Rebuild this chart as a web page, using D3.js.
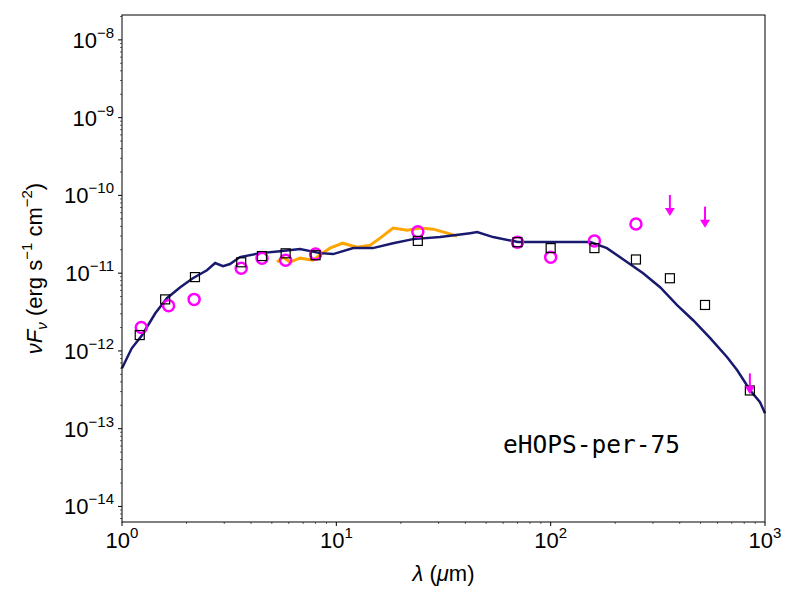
<!DOCTYPE html>
<html><head><meta charset="utf-8">
<script src="https://cdn.jsdelivr.net/npm/d3@7"></script>
<style>body{margin:0;background:#fff;font-family:"Liberation Sans",Arial,sans-serif}</style>
</head><body><svg id="c" width="800" height="600"></svg>
<script>
// model SED
var modelWave = [1.00,1.11,1.24,1.43,1.62,1.87,2.14,2.49,2.72,2.96,3.19,3.55,4.41,5.46,6.77,8.39,9.66,12.0,14.8,18.4,22.8,30.5,42.1,45.4,53.9,70.4,86.4,123,153,183,227,270,324,389,462,555,666,742,852,948,1000];
var modelFlux = [5.98e-13,1.08e-12,1.59e-12,3.05e-12,4.77e-12,6.6e-12,8.6e-12,1.09e-11,1.35e-11,1.23e-11,1.31e-11,1.61e-11,1.81e-11,1.92e-11,2.04e-11,1.81e-11,1.76e-11,2.10e-11,2.10e-11,2.43e-11,2.74e-11,2.91e-11,3.27e-11,3.37e-11,2.91e-11,2.51e-11,2.51e-11,2.51e-11,2.51e-11,2.10e-11,1.39e-11,1.0e-11,6.6e-12,3.87e-12,2.48e-12,1.46e-12,8.3e-13,5.65e-13,3.12e-13,2.19e-13,1.58e-13];
// IRS spectrum
var specWave = [5.29,5.64,6.08,6.77,7.78,8.39,9.35,10.7,12.5,14.4,16.0,18.4,21.4,24.6,28.3,32.9,36.6];
var specFlux = [1.39e-11,1.61e-11,1.39e-11,1.56e-11,1.47e-11,1.71e-11,2.10e-11,2.43e-11,2.16e-11,2.29e-11,2.82e-11,3.8e-11,3.57e-11,3.8e-11,3.68e-11,3.27e-11,2.99e-11];
// model photometry (squares)
var sqWave = [1.21,1.59,2.19,3.6,4.5,5.8,8.0,24,70,100,160,250,360,525,850];
var sqFlux = [1.6e-12,4.6e-12,8.9e-12,1.38e-11,1.66e-11,1.8e-11,1.7e-11,2.6e-11,2.5e-11,2.1e-11,2.1e-11,1.5e-11,8.6e-12,3.9e-12,3.1e-13];
// observed photometry (circles)
var obsWave = [1.23,1.65,2.17,3.6,4.5,5.8,8.0,24,70,100,160,250];
var obsFlux = [2.0e-12,3.8e-12,4.6e-12,1.16e-11,1.56e-11,1.47e-11,1.76e-11,3.4e-11,2.5e-11,1.6e-11,2.6e-11,4.3e-11];
// upper limits
var limWave = [360,525,850];
var limFlux = [6.5e-11,4.6e-11,3.3e-13];
var yTicks = [-14,-13,-12,-11,-10,-9,-8];

var svg = d3.select('#c');
var L = 122, R = 765, T = 15, B = 522;
var x = d3.scaleLog().domain([1, 1000]).range([L, R]);
var y = d3.scaleLog().domain([Math.pow(10, -14.2), Math.pow(10, -7.68)]).range([B, T]);

var g = svg.append('g');
// minor ticks
var minorX = [], minorY = [];
for (var d = 0; d < 3; d++) for (var k = 2; k < 10; k++) minorX.push(k * Math.pow(10, d));
for (var e = -15; e < -7; e++) for (var k = 2; k < 10; k++) { var v = k * Math.pow(10, e); if (v > y.domain()[0] && v < y.domain()[1]) minorY.push(v); }
g.selectAll('.mx').data(minorX).enter().append('line')
  .attr('x1', x).attr('x2', x).attr('y1', B).attr('y2', B + 2).attr('stroke', '#000').attr('stroke-width', 0.6);
g.selectAll('.my').data(minorY).enter().append('line')
  .attr('y1', y).attr('y2', y).attr('x1', L).attr('x2', L - 2).attr('stroke', '#000').attr('stroke-width', 0.6);
// major ticks
[0, 1, 2, 3].forEach(function(p) {
  var px = x(Math.pow(10, p));
  g.append('line').attr('x1', px).attr('x2', px).attr('y1', B).attr('y2', B + 4).attr('stroke', '#000');
  var t = g.append('text').attr('x', px).attr('y', B + 26).attr('text-anchor', 'middle').attr('font-size', 22);
  t.append('tspan').text('10');
  t.append('tspan').attr('dy', -10).attr('font-size', 15).text(p);
});
yTicks.forEach(function(p) {
  var py = y(Math.pow(10, p));
  g.append('line').attr('x1', L - 4).attr('x2', L).attr('y1', py).attr('y2', py).attr('stroke', '#000');
  var t = g.append('text').attr('x', L - 8).attr('y', py + 8).attr('text-anchor', 'end').attr('font-size', 22);
  t.append('tspan').text('10');
  t.append('tspan').attr('dy', -10).attr('font-size', 15).text('\u2212' + (-p));
});

var line = d3.line().x(function(d) { return x(d[0]); }).y(function(d) { return y(d[1]); });
svg.append('path').datum(d3.zip(specWave, specFlux)).attr('d', line)
  .attr('fill', 'none').attr('stroke', 'orange').attr('stroke-width', 3);
svg.append('path').datum(d3.zip(modelWave, modelFlux)).attr('d', line)
  .attr('fill', 'none').attr('stroke', '#191970').attr('stroke-width', 2.5);

svg.selectAll('.obs').data(d3.zip(obsWave, obsFlux)).enter().append('circle')
  .attr('cx', function(d) { return x(d[0]); }).attr('cy', function(d) { return y(d[1]); })
  .attr('r', 5.5).attr('fill', 'none').attr('stroke', 'magenta').attr('stroke-width', 2.5);
svg.selectAll('.sq').data(d3.zip(sqWave, sqFlux)).enter().append('rect')
  .attr('x', function(d) { return x(d[0]) - 4.5; }).attr('y', function(d) { return y(d[1]) - 4.5; })
  .attr('width', 9).attr('height', 9).attr('fill', 'none').attr('stroke', '#000').attr('stroke-width', 1.2);
var lim = svg.selectAll('.lim').data(d3.zip(limWave, limFlux)).enter().append('g')
  .attr('transform', function(d) { return 'translate(' + x(d[0]) + ',' + y(d[1]) + ')'; });
lim.append('line').attr('x1', 0).attr('x2', 0).attr('y1', -15).attr('y2', 0).attr('stroke', 'magenta').attr('stroke-width', 2);
lim.append('path').attr('d', 'M-5,-2 L5,-2 L0,6 Z').attr('fill', 'magenta');

svg.append('rect').attr('x', L).attr('y', T).attr('width', R - L).attr('height', B - T)
  .attr('fill', 'none').attr('stroke', '#000').attr('stroke-width', 1);

svg.append('text').attr('x', 503).attr('y', 453).attr('font-family', 'DejaVu Sans Mono')
  .attr('font-size', 24.5).text('eHOPS-per-75');

var xl = svg.append('text').attr('x', (L + R) / 2).attr('y', 581).attr('text-anchor', 'middle').attr('font-size', 22);
xl.append('tspan').attr('font-style', 'italic').text('\u03bb');
xl.append('tspan').text(' (');
xl.append('tspan').attr('font-style', 'italic').text('\u03bc');
xl.append('tspan').text('m)');

var yl = svg.append('text').attr('transform', 'translate(42,' + ((T + B) / 2) + ') rotate(-90)')
  .attr('text-anchor', 'middle').attr('font-size', 22);
yl.append('tspan').attr('font-style', 'italic').text('\u03bdF');
yl.append('tspan').attr('font-style', 'italic').attr('font-size', 15).attr('dy', 5).text('\u03bd');
yl.append('tspan').attr('dy', -5).text(' (erg s');
yl.append('tspan').attr('font-size', 15).attr('dy', -10).text('\u22121');
yl.append('tspan').attr('dy', 10).text(' cm');
yl.append('tspan').attr('font-size', 15).attr('dy', -10).text('\u22122');
yl.append('tspan').attr('dy', 10).text(')');
</script></body></html>
